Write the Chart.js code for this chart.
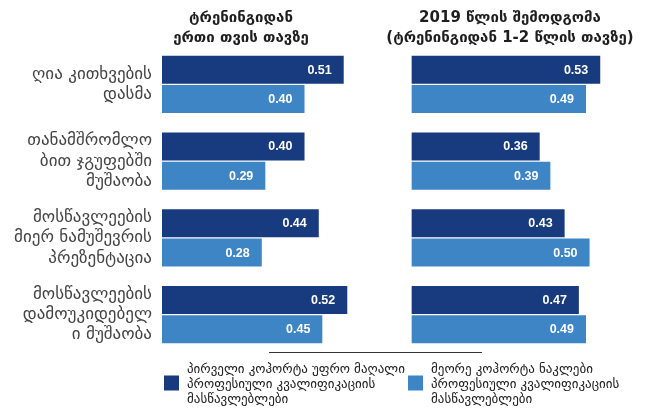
<!DOCTYPE html>
<html>
<head>
<meta charset="utf-8">
<script src="https://cdn.jsdelivr.net/npm/chart.js@4/dist/chart.umd.min.js"></script>
<style>
	html, body { margin: 0; padding: 0; background: #fff; }
	#wrap { position: relative; width: 646px; height: 410px; }
</style>
</head>
<body>
<div id="wrap"><canvas id="chart-teaching-practices"></canvas></div>
<script>
const categories = [
	["ღია კითხვების", "დასმა"],
	["თანამშრომლო", "ბით ჯგუფებში", "მუშაობა"],
	["მოსწავლეების", "მიერ ნამუშევრის", "პრეზენტაცია"],
	["მოსწავლეების", "დამოუკიდებელ", "ი მუშაობა"],
];
const panelTitles = [
	["ტრენინგიდან", "ერთი თვის თავზე"],
	["2019 წლის შემოდგომა", "(ტრენინგიდან 1-2 წლის თავზე)"],
];
const seriesNames = [
	["პირველი კოჰორტა უფრო მაღალი", "პროფესიული კვალიფიკაციის", "მასწავლებლები"],
	["მეორე კოჰორტა ნაკლები", "პროფესიული კვალიფიკაციის", "მასწავლებლები"],
];
// after one month / autumn 2019
const cohort1Month = [0.51, 0.40, 0.44, 0.52];
const cohort2Month = [0.40, 0.29, 0.28, 0.45];
const cohort1Later = [0.53, 0.36, 0.43, 0.47];
const cohort2Later = [0.49, 0.39, 0.50, 0.49];

const COLORS = { dark: "#183a7e", light: "#3e85c6", text: "#444", title: "#1e1e1e" };
const GEO_FONT = "'DejaVu Sans', sans-serif";

// panel titles above each half
const panelTitlePlugin = {
	id: "panelTitles",
	afterDraw(chart) {
		const ctx = chart.ctx;
		const centers = [241, 510];
		ctx.save();
		ctx.fillStyle = COLORS.title;
		ctx.font = "bold 15px " + GEO_FONT;
		ctx.textAlign = "center";
		ctx.textBaseline = "middle";
		panelTitles.forEach((lines, i) => {
			lines.forEach((line, j) => ctx.fillText(line, centers[i], 18.5 + j * 20));
		});
		ctx.restore();
	},
};

// values written inside the bar ends
const barValuePlugin = {
	id: "barValues",
	afterDatasetsDraw(chart) {
		const ctx = chart.ctx;
		ctx.save();
		ctx.fillStyle = "#fff";
		ctx.font = "bold 12.5px 'Liberation Sans', Arial, sans-serif";
		ctx.textAlign = "right";
		ctx.textBaseline = "middle";
		chart.data.datasets.forEach((ds, i) => {
			chart.getDatasetMeta(i).data.forEach((bar, j) => {
				ctx.fillText(ds.data[j].toFixed(2), bar.x - 12, bar.y + 0.5);
			});
		});
		ctx.restore();
	},
};

// legend with wrapped labels and the rule above it
const legendPlugin = {
	id: "wrappedLegend",
	afterDraw(chart) {
		const ctx = chart.ctx;
		const items = [
			{ x: 164, color: COLORS.dark, lines: seriesNames[0] },
			{ x: 408, color: COLORS.light, lines: seriesNames[1] },
		];
		ctx.save();
		ctx.strokeStyle = "#333";
		ctx.lineWidth = 1;
		ctx.beginPath();
		ctx.moveTo(269, 352.5);
		ctx.lineTo(482, 352.5);
		ctx.stroke();
		ctx.font = "13px " + GEO_FONT;
		ctx.textBaseline = "middle";
		ctx.textAlign = "left";
		items.forEach((item) => {
			ctx.fillStyle = item.color;
			ctx.fillRect(item.x, 375.5, 15, 15);
			ctx.fillStyle = "#222";
			item.lines.forEach((line, j) => ctx.fillText(line, item.x + 23, 370 + j * 15));
		});
		ctx.restore();
	},
};

const CHART_DATA = {
	labels: categories,
	datasets: [
		{ label: seriesNames[0].join(" "), data: cohort1Month, backgroundColor: COLORS.dark, xAxisID: "x", stack: "c1" },
		{ label: seriesNames[1].join(" "), data: cohort2Month, backgroundColor: COLORS.light, xAxisID: "x", stack: "c2" },
		{ label: seriesNames[0].join(" "), data: cohort1Later, backgroundColor: COLORS.dark, xAxisID: "x2", stack: "c1" },
		{ label: seriesNames[1].join(" "), data: cohort2Later, backgroundColor: COLORS.light, xAxisID: "x2", stack: "c2" },
	],
};

const CHART_CONFIG = {
	type: "bar",
	data: CHART_DATA,
	options: {
		indexAxis: "y",
		responsive: false,
		animation: false,
		categoryPercentage: 0.765,
		barPercentage: 0.95,
		borderWidth: 0,
		layout: {
			padding: { top: 46, bottom: 57, left: 0, right: 3 },
		},
		plugins: {
			legend: { display: false },
			title: { display: false },
			tooltip: { enabled: false },
		},
		scales: {
			y: {
				border: { display: false },
				grid: { display: false, drawTicks: false },
				ticks: {
					padding: 10,
					color: COLORS.text,
					font: { family: GEO_FONT, size: 17, lineHeight: 1.2 },
				},
				afterFit: (scale) => {
					scale.width = 162;
				},
			},
			x: {
				display: false,
				min: 0,
				max: 0.7,
				stacked: true,
				stack: "panels",
				stackWeight: 0.7,
			},
			x2: {
				type: "linear",
				axis: "x",
				position: "bottom",
				display: false,
				min: 0,
				max: 0.65,
				stacked: true,
				stack: "panels",
				stackWeight: 0.65,
			},
		},
	},
	plugins: [panelTitlePlugin, barValuePlugin, legendPlugin],
};

const canvas = document.getElementById("chart-teaching-practices");
canvas.width = 646;
canvas.height = 410;
new Chart(canvas, CHART_CONFIG);
</script>
</body>
</html>
